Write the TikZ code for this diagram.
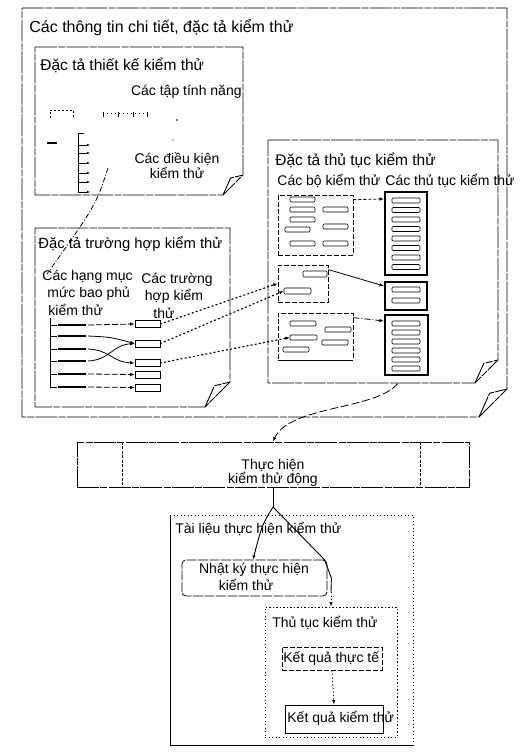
\documentclass[tikz,border=0pt]{standalone}
\usepackage{fontspec}
\setmainfont{Liberation Sans}
\usetikzlibrary{arrows.meta}
\newcommand\foldbox[6]{%
  \draw[#1] (#2,#3) -- (#4,#3) -- (#4,{#5-#6}) -- ({#4-#6},#5) -- (#2,#5) -- cycle;
  \draw[#1] ({#4-#6},#5) -- ({#4-0.62*#6},{#5-0.85*#6}) -- (#4,{#5-#6});
}
\begin{document}
\begin{tikzpicture}[x=1pt,y=-1pt,
  line width=0.8pt,
  broken/.style={line width=0.9pt, dash pattern=on 22pt off 1.3pt on 7pt off 1.3pt},
  dashbox/.style={line width=0.8pt, dash pattern=on 5pt off 2pt},
  dotbox/.style={line width=0.9pt, dash pattern=on 1.3pt off 2.2pt},
  hd/.style={font=\fontsize{15.5}{18}\selectfont, anchor=base west, inner sep=0pt},
  lb/.style={font=\fontsize{14}{17}\selectfont, inner sep=0pt},
  sb/.style={line width=0.6pt, rounded corners=1pt},
  proc/.style={line width=2pt},
  arr/.style={-{Latex[length=4.5pt,width=3.5pt]}},
  dotc/.style={line width=1.2pt, dash pattern=on 1.2pt off 3pt, line cap=round, -{Latex[length=4.5pt,width=3.5pt]}},
  bar/.style={line width=2.2pt},
]
\useasboundingbox (0,0) rectangle (531,756);

% ---------- outer document ----------
\foldbox{broken}{22}{8}{507}{417}{28}
\node[hd, font=\fontsize{16}{19}\selectfont] (title) at (29,32) {Các thông tin chi tiết, đặc tả kiểm thử};

% ---------- document 1 ----------
\foldbox{broken}{35}{47}{243}{195}{20}
\node[hd] (d1t) at (40,70) {Đặc tả thiết kế kiểm thử};
\node[lb, anchor=base east] (feat) at (242,95) {Các tập tính năng};
\node[lb, anchor=base] (cond1) at (177,163) {Các điều kiện};
\node[lb, anchor=base] (cond2) at (177,178) {kiểm thử};
% faint tree remnants
\draw[line width=0.6pt, dash pattern=on 2pt off 2pt] (50,118) -- (50,110) -- (73,110) -- (73,118);
\draw[line width=0.6pt, dash pattern=on 1pt off 3pt] (103,113) -- (147,113);
\foreach \xx in {103,118,133,147} \draw[line width=0.7pt] (\xx,112) -- (\xx,117);
\fill (177,120) circle (0.8pt);
\fill (173,140) circle (0.6pt);
% condition list
\draw[bar] (47,143) -- (57,143);
\draw[line width=0.8pt] (84,133) -- (78,133) -- (78,192);
\foreach \yy in {145,153,163,173,182,192}
  \draw[line width=0.7pt, -{Latex[length=3pt,width=2.5pt]}] (78,\yy) -- (90,\yy);
\coordinate (condpt) at (108,168);

% ---------- document 2 ----------
\foldbox{broken}{35}{228}{230}{407}{25}
\node[hd, font=\fontsize{14.8}{17}\selectfont] (d2t) at (38,248) {Đặc tả trường hợp kiểm thử};
\node[lb, anchor=base west] (cov1) at (42,280) {Các hạng mục};
\node[lb, anchor=base west] (cov2) at (47,297) {mức bao phủ};
\node[lb, anchor=base west] (cov3) at (48,315) {kiểm thử};
\node[lb, anchor=base] (tc1) at (177,283) {Các trường};
\node[lb, anchor=base] (tc2) at (174,300) {hợp kiểm};
\node[lb, anchor=base] (tc3) at (164,318) {thử};
\coordinate (covpt) at (47,274);
\draw[line width=0.8pt, dash pattern=on 5pt off 2pt on 1pt off 2pt] (condpt) .. controls (96,205) .. (covpt);

% coverage items
\draw[line width=0.8pt] (50,318) -- (50,387);
\foreach \yy/\nm in {325/c1,336/c2,349/c3,361/c4,374/c5,387/c6} {
  \draw[line width=0.8pt] (50,\yy) -- (57,\yy);
  \draw[bar] (58,\yy) -- (86,\yy);
  \coordinate (\nm) at (88,\yy);
}
% test case boxes
\foreach \yy/\nm in {324/t1,343.5/t2,363/t3,374.5/t4,387.5/t5}
  \node[draw, line width=0.7pt, minimum width=25pt, minimum height=7pt, inner sep=0pt] (\nm) at (147.5,\yy) {};
\draw[arr, dash pattern=on 6pt off 2pt] (c1) -- (t1.west);
\draw[arr] (c2) .. controls (110,337) .. (t2.west);
\draw[arr] (c3) .. controls (110,350) and (112,362) .. (t3.west);
\draw[arr] (c4) .. controls (110,360) and (112,345) .. (t2.west);
\draw[arr, dash pattern=on 6pt off 2pt] (c5) -- (t4.west);
\draw[arr, dash pattern=on 6pt off 2pt] (c6) -- (t5.west);

% ---------- document 3 ----------
\foldbox{broken}{268}{140}{498}{383}{23}
\node[hd] (d3t) at (275,165) {Đặc tả thủ tục kiểm thử};
\node[lb, anchor=base west] (suites) at (277,185) {Các bộ kiểm thử};
\node[lb, anchor=base west] (procs) at (385,185) {Các thủ tục kiểm thử};

% suites
\node[draw, dashbox, minimum width=75pt, minimum height=60pt, inner sep=0pt] (s1) at (315.5,225) {};
\node[draw, dashbox, minimum width=50pt, minimum height=37pt, inner sep=0pt] (s2) at (303,283.5) {};
\node[draw, dashbox, minimum width=75pt, minimum height=47pt, inner sep=0pt] (s3) at (315.5,336.5) {};
\draw[line width=1pt] (s3.south west) -- (s3.south east);
\foreach \ax/\ay in {290/197,290/207,323/207,290/217,285/227,323/224,290/241,323/241}
  \draw[sb] (\ax,\ay) rectangle ++(25,5);
\draw[sb] (303,271) rectangle ++(24,6);
\node[draw, sb, minimum width=27pt, minimum height=6pt, inner sep=0pt] (s2r) at (297.5,291) {};
\foreach \ax/\ay in {290/321,325/327,322/340,283/347}
  \draw[sb] (\ax,\ay) rectangle ++(26,5);
\node[draw, sb, minimum width=27pt, minimum height=5pt, inner sep=0pt] (s3r) at (303.5,337.5) {};

% procedures
\node[draw, proc, minimum width=42pt, minimum height=83pt, inner sep=0pt] (p1) at (406,233.5) {};
\node[draw, proc, minimum width=42pt, minimum height=28pt, inner sep=0pt] (p2) at (406,296) {};
\node[draw, proc, minimum width=43pt, minimum height=60pt, inner sep=0pt] (p3) at (406.5,345) {};
\foreach \ay in {198,207.5,217,226.5,236,245.5,255,264.5}
  \draw[sb] (392,\ay) rectangle ++(28,5);
\foreach \ay in {287,298}
  \draw[sb] (392,\ay) rectangle ++(28,5);
\foreach \ay in {321,330,339,348,357,366}
  \draw[sb] (392,\ay) rectangle ++(28,5);

% suite -> procedure connectors
\draw[arr, dash pattern=on 3pt off 2pt] ([shift={(0,5)}]s1.north east) -- ([shift={(0,8)}]p1.north west);
\draw[arr] ([shift={(0,5)}]s2.north east) -- ([shift={(0,5)}]p2.north west);
\draw[arr, dash pattern=on 6pt off 2pt on 1pt off 2pt] ([shift={(0,5)}]s3.north east) -- ([shift={(0,7)}]p3.north west);

% test cases -> suites
\draw[dotc] (t1.east) -- (s2.west);
\draw[dotc] (t2.east) -- (s2r.west);
\draw[dotc] (t3.east) -- (s3r.west);

% ---------- dynamic test execution ----------
\node[draw, broken, minimum width=392pt, minimum height=45pt, inner sep=0pt] (exec) at (273,464.5) {};
\draw[line width=0.7pt, dash pattern=on 3pt off 1.5pt] ([shift={(46,0)}]exec.north west) -- ([shift={(46,0)}]exec.south west);
\draw[line width=0.7pt, dash pattern=on 3pt off 1.5pt] ([shift={(-49,0)}]exec.north east) -- ([shift={(-49,0)}]exec.south east);
\node[lb, anchor=base] (ex1) at (273,469) {Thực hiện};
\node[lb, anchor=base] (ex2) at (273,483) {kiểm thử động};
\coordinate (rdb) at (398,383);
\draw[arr, dash pattern=on 8pt off 3pt] (rdb) .. controls (378,410) and (290,405) .. (exec.north);

% ---------- execution documents ----------
\coordinate (tlnw) at (170,515);
\coordinate (tlse) at (413,745);
\draw[dotbox] (tlnw) -- (tlnw -| tlse) -- (tlse);
\draw[line width=0.9pt] (tlnw) -- (tlnw |- tlse) -- (tlse);
\node[lb, anchor=base west] (tl) at (175,533) {Tài liệu thực hiện kiểm thử};

\node[draw, line width=0.8pt, dash pattern=on 10pt off 1.5pt, rounded corners=4pt, minimum width=145pt, minimum height=36pt, inner sep=0pt] (log) at (254.5,578) {};
\node[lb, anchor=base] (log1) at (254,573) {Nhật ký thực hiện};
\node[lb, anchor=base] (log2) at (246,590) {kiểm thử};

\node[draw, dotbox, minimum width=132pt, minimum height=130pt, inner sep=0pt] (tt) at (331,672) {};
\node[lb, anchor=base west] (ttl) at (272,627) {Thủ tục kiểm thử};

\coordinate (split) at (273,507);
\draw[line width=0.9pt] (exec.south) -- (split);
\draw[arr, line width=0.9pt] (split) .. controls (262,525) .. ([xshift=-1.5pt]log.north);
\coordinate (logr) at (331,592);
\draw[line width=0.9pt] (split) -- ([xshift=-3pt]log.north east) -- ([xshift=4pt]log.east) -- (logr);
\draw[arr, dotbox] (logr) -- (tt.north);

\node[draw, dashbox, minimum width=100pt, minimum height=23pt, inner sep=0pt] (kqtt) at (332,658.5) {};
\node[lb, anchor=base west] (kqtt1) at (283,662) {Kết quả thực tế};
\node[draw, line width=0.9pt, minimum width=98pt, minimum height=28pt, inner sep=0pt] (kqkt) at (334,719) {};
\node[lb, anchor=base west] (kqkt1) at (287,722) {Kết quả kiểm thử};
\draw[arr, dotbox] (kqtt.south) -- (kqkt.north);
\end{tikzpicture}
\end{document}
